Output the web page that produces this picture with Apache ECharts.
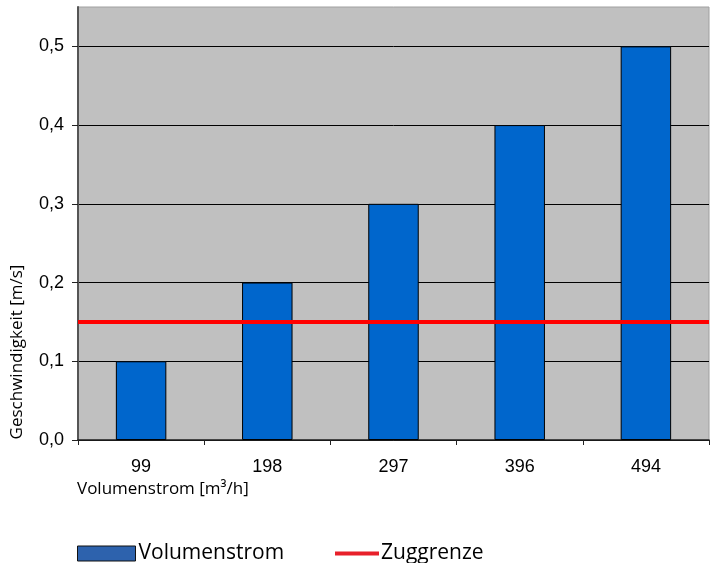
<!DOCTYPE html>
<html>
<head>
<meta charset="utf-8">
<script src="https://cdn.jsdelivr.net/npm/echarts@6/dist/echarts.min.js"></script>
<style>
html,body{margin:0;padding:0;background:#fff;}
#chart{width:714px;height:563px;}
</style>
</head>
<body>
<div id="chart"></div>
<script>
const categories = ['99', '198', '297', '396', '494'];
const volumenstrom = [0.1, 0.2, 0.3, 0.4, 0.5];
const zuggrenze = [0.15];
const yTicks = [0, 0.1, 0.2, 0.3, 0.4, 0.5];

const chart = echarts.init(document.getElementById('chart'));
chart.setOption({
  animation: false,
  backgroundColor: '#ffffff',
  grid: {
    left: 78, right: 5, top: 7, bottom: 123,
    show: true, backgroundColor: '#c0c0c0', borderColor: '#a0a0a0', borderWidth: 1
  },
  xAxis: {
    type: 'category',
    data: categories,
    axisLine: { lineStyle: { color: '#222', width: 1.5 } },
    axisTick: { show: true, alignWithLabel: false, length: 5, lineStyle: { color: '#222' } },
    axisLabel: { margin: 18, fontFamily: 'Liberation Sans, Arial, sans-serif', fontSize: 18, color: '#000' },
    splitLine: { show: false }
  },
  yAxis: {
    type: 'value',
    min: 0, max: 0.55, interval: 0.1,
    axisLine: { show: true, lineStyle: { color: '#555', width: 2 } },
    axisTick: { show: true, length: 6, lineStyle: { color: '#222' } },
    axisLabel: {
      margin: 14, fontFamily: 'Liberation Sans, Arial, sans-serif', fontSize: 18, color: '#000',
      showMaxLabel: false,
      formatter: function (v) {
        const ok = yTicks.some(t => Math.abs(t - v) < 1e-9);
        return ok ? v.toFixed(1).replace('.', ',') : '';
      }
    },
    splitLine: { show: true, showMaxLine: false, lineStyle: { color: '#000', width: 1 } }
  },
  legend: [
    {
      left: 72, top: 538, itemWidth: 58, itemHeight: 15, itemGap: 20,
      data: [{ name: 'Volumenstrom', icon: 'rect', itemStyle: { color: '#2d62ad', borderColor: '#111', borderWidth: 1 } }],
      textStyle: { fontFamily: 'Open Sans', fontSize: 21, color: '#000', padding: [0, 0, 0, -2] }
    },
    {
      left: 330, top: 538, itemWidth: 44, itemHeight: 4,
      data: [{ name: 'Zuggrenze', icon: 'rect', itemStyle: { color: '#e8202a', borderWidth: 0 } }],
      textStyle: { fontFamily: 'Open Sans', fontSize: 21, color: '#000', padding: [0, 0, 0, -3] }
    }
  ],
  graphic: [
    {
      type: 'text', left: 77, top: 481,
      style: { text: 'Volumenstrom [m³/h]', fontFamily: 'Open Sans', fontSize: 17, fill: '#000' }
    },
    {
      type: 'text', x: 17, y: 352, rotation: Math.PI / 2,
      style: { text: 'Geschwindigkeit [m/s]', fontFamily: 'Open Sans', fontSize: 17, fill: '#000', align: 'center', verticalAlign: 'middle' }
    }
  ],
  series: [
    {
      name: 'Volumenstrom',
      type: 'bar',
      data: volumenstrom,
      barWidth: '40%',
      itemStyle: { color: '#0066cc', borderColor: '#000', borderWidth: 1 }
    },
    {
      name: 'Zuggrenze',
      type: 'line',
      data: [],
      symbol: 'none',
      itemStyle: { color: '#ee1111' },
      lineStyle: { color: '#ee1111', width: 4 },
      markLine: {
        silent: true,
        symbol: ['none', 'none'],
        label: { show: false },
        lineStyle: { color: '#ff0000', width: 4, type: 'solid' },
        data: [{ yAxis: zuggrenze[0] }]
      }
    }
  ]
});
</script>
</body>
</html>
